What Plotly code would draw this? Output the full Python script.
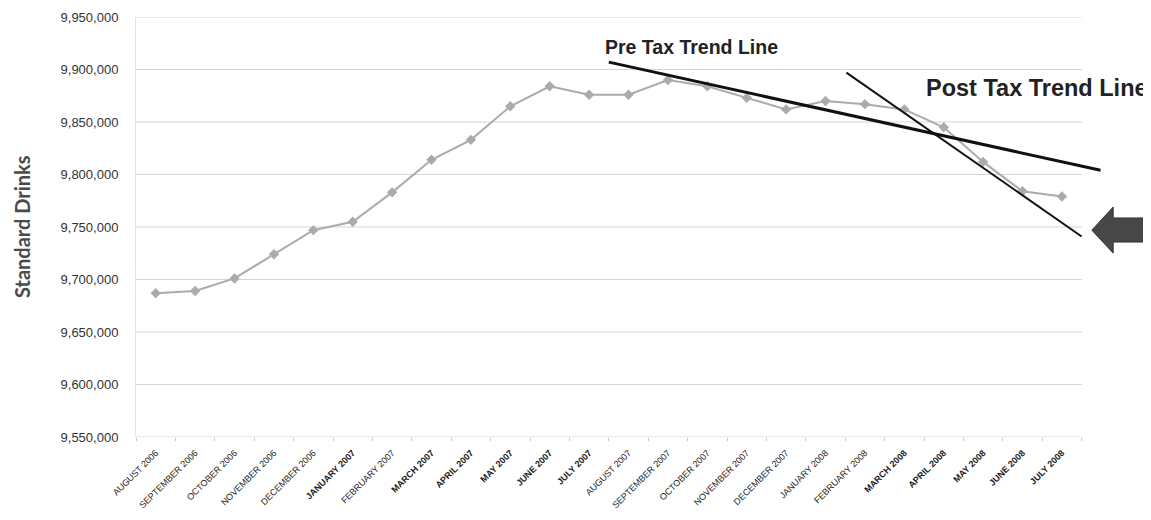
import plotly.graph_objects as go

months = ["AUGUST 2006", "SEPTEMBER 2006", "OCTOBER 2006", "NOVEMBER 2006", "DECEMBER 2006",
          "JANUARY 2007", "FEBRUARY 2007", "MARCH 2007", "APRIL 2007", "MAY 2007", "JUNE 2007",
          "JULY 2007", "AUGUST 2007", "SEPTEMBER 2007", "OCTOBER 2007", "NOVEMBER 2007",
          "DECEMBER 2007", "JANUARY 2008", "FEBRUARY 2008", "MARCH 2008", "APRIL 2008",
          "MAY 2008", "JUNE 2008", "JULY 2008"]
drinks = [9687000, 9689000, 9701000, 9724000, 9747000, 9755000, 9783000, 9814000,
          9833000, 9865000, 9884000, 9876000, 9876000, 9890000, 9884000, 9873000,
          9862000, 9870000, 9867000, 9862000, 9845000, 9812000, 9784000, 9779000]
y_ticks = [9550000, 9600000, 9650000, 9700000, 9750000, 9800000, 9850000, 9900000, 9950000]

# tick labels that print heavier in the original
heavy_labels = {"JANUARY 2007", "MARCH 2007", "APRIL 2007", "MAY 2007", "JUNE 2007",
                "JULY 2007", "MARCH 2008", "APRIL 2008", "MAY 2008", "JUNE 2008", "JULY 2008"}

# trend lines: (category index, value) endpoints
pre_tax_x = [11.5, 23.98]
pre_tax_y = [9907000, 9804000]
post_tax_x = [17.53, 23.5]
post_tax_y = [9897000, 9741000]

# left-pointing block arrow (category index, value)
arrow_x = [23.76, 24.30, 24.30, 25.19, 25.19, 24.30, 24.30]
arrow_y = [9747000, 9769000, 9758600, 9758600, 9735700, 9735700, 9725200]

fig = go.Figure()
fig.add_trace(go.Scatter(
    x=months, y=drinks, mode="lines+markers",
    line=dict(color="#ababab", width=2),
    marker=dict(symbol="diamond", size=8, color="#ababab"),
    showlegend=False, hoverinfo="x+y"))

shapes = []
for t in y_ticks:
    shapes.append(dict(type="line", xref="x", yref="y", x0=-0.5, x1=len(months) - 0.5,
                       y0=t, y1=t, line=dict(color="#d4d4d4", width=1), layer="below"))
shapes.append(dict(type="line", xref="x", yref="y", x0=pre_tax_x[0], x1=pre_tax_x[1],
                   y0=pre_tax_y[0], y1=pre_tax_y[1], line=dict(color="#111111", width=3)))
shapes.append(dict(type="line", xref="x", yref="y", x0=post_tax_x[0], x1=post_tax_x[1],
                   y0=post_tax_y[0], y1=post_tax_y[1], line=dict(color="#111111", width=2)))
path = "M " + " L ".join(f"{x},{y}" for x, y in zip(arrow_x, arrow_y)) + " Z"
shapes.append(dict(type="path", xref="x", yref="y", path=path,
                   fillcolor="#474747", line=dict(color="#2e2e2e", width=1)))

annotations = [
    dict(text="<b>Pre Tax Trend Line</b>", x=11.35, y=9921000, xref="x", yref="y",
         xanchor="left", yanchor="middle", showarrow=False,
         font=dict(family="Liberation Sans", size=19.5, color="#222222")),
    dict(text="<b>Post Tax Trend Line</b>", x=19.5, y=9882000, xref="x", yref="y",
         xanchor="left", yanchor="middle", showarrow=False,
         font=dict(family="Liberation Sans", size=23.5, color="#222222")),
    dict(text="<b>Standard Drinks</b>", x=-0.1125, y=0.5, xref="paper", yref="paper",
         textangle=-90, showarrow=False, xanchor="center", yanchor="middle",
         borderpad=0,
         font=dict(family="Lato", size=20, color="#4a4a4a")),
]

tick_text = [f"<b>{m}</b>" if m in heavy_labels else m for m in months]

fig.update_layout(
    width=1151, height=520,
    margin=dict(l=128, r=10, t=9, b=91),
    paper_bgcolor="white", plot_bgcolor="white",
    shapes=shapes, annotations=annotations,
    xaxis=dict(type="category", categoryorder="array", categoryarray=months,
               tickvals=months, ticktext=tick_text,
               range=[-0.5, 25.21], showgrid=False, showline=False, zeroline=False,
               automargin=False,
               tickangle=-45, tickson="boundaries", ticks="outside", ticklen=3,
               tickcolor="#c8c8c8", ticklabelstandoff=8,
               tickfont=dict(family="Liberation Sans", size=9, color="#222222")),
    yaxis=dict(range=[9550000, 9950000], tickvals=y_ticks, tickformat=",",
               showgrid=False, zeroline=False, showline=True, linecolor="#e2e2e2",
               automargin=False, ticks="", ticklabelstandoff=14,
               tickfont=dict(family="Liberation Sans", size=13, color="#333333")),
)

fig.write_html("out.html")
